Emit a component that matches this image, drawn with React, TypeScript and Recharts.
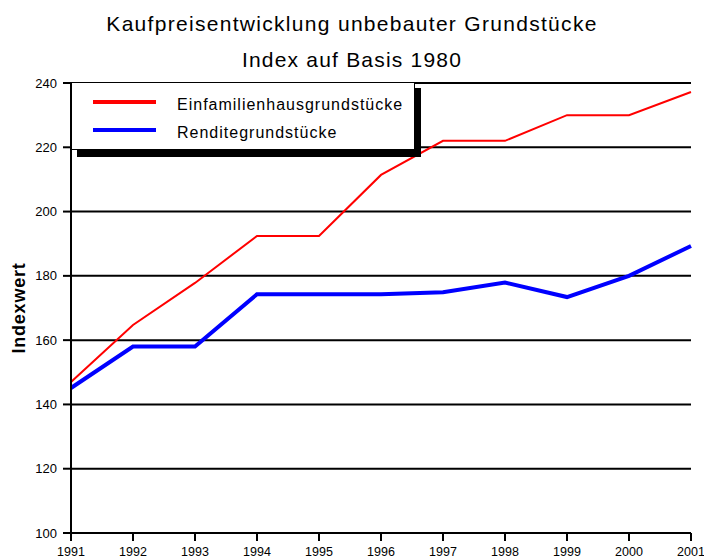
import React from 'react';
import { LineChart, Line, XAxis, YAxis, CartesianGrid } from 'recharts';

const years = [1991, 1992, 1993, 1994, 1995, 1996, 1997, 1998, 1999, 2000, 2001];
const einfamilien = [147, 164.7, 177.8, 192.4, 192.4, 211.4, 222, 222, 230, 230, 237.2];
const rendite = [145.1, 158, 158, 174.3, 174.3, 174.3, 174.9, 177.9, 173.4, 180, 189.3];
const yTicks = [100, 120, 140, 160, 180, 200, 220, 240];

const data = years.map((year, i) => ({
    year,
    einfamilien: einfamilien[i],
    rendite: rendite[i],
}));

const font = '"Liberation Sans", Arial, sans-serif';

const YTitle = () => (
    <text
        x={19}
        y={308}
        transform="rotate(-90, 19, 308)"
        textAnchor="middle"
        dominantBaseline="central"
        fontFamily={font}
        fontWeight="bold"
        fontSize={18}
        letterSpacing={0.8}
        fill="#000"
    >
        Indexwert
    </text>
);

export default function App() {
    return (
        <div style={{ position: 'absolute', left: 0, top: 0, width: 704, height: 560, background: '#fff', fontFamily: font }}>
            <div style={{ position: 'absolute', left: 0, width: 704, top: 11, textAlign: 'center', fontSize: 21, letterSpacing: 1.3, lineHeight: '26px' }}>
                Kaufpreisentwicklung unbebauter Grundstücke
            </div>
            <div style={{ position: 'absolute', left: 0, width: 704, top: 47, textAlign: 'center', fontSize: 21, letterSpacing: 1.2, lineHeight: '26px' }}>
                Index auf Basis 1980
            </div>
            <LineChart
                width={704}
                height={560}
                data={data}
                margin={{ top: 83, right: 13, bottom: 0, left: 0 }}
            >
                <CartesianGrid vertical={false} stroke="#000" strokeWidth={2} />
                <XAxis
                    dataKey="year"
                    type="number"
                    domain={[1991, 2001]}
                    ticks={years}
                    interval={0}
                    stroke="#000"
                    strokeWidth={2}
                    tickSize={8}
                    tickMargin={6}
                    tick={{ fontFamily: font, fontSize: 12.5, fill: '#000' }}
                    height={27}
                />
                <YAxis
                    domain={[100, 240]}
                    ticks={yTicks}
                    interval={0}
                    width={71}
                    stroke="#000"
                    strokeWidth={2}
                    tickSize={8}
                    tickMargin={6}
                    tick={{ fontFamily: font, fontSize: 13, fill: '#000' }}
                    label={{ content: () => <YTitle /> }}
                />
                <Line
                    type="linear"
                    dataKey="einfamilien"
                    stroke="#ff0000"
                    strokeWidth={2}
                    dot={false}
                    isAnimationActive={false}
                />
                <Line
                    type="linear"
                    dataKey="rendite"
                    stroke="#0000ff"
                    strokeWidth={4}
                    dot={false}
                    isAnimationActive={false}
                />
            </LineChart>
            {/* legend box with drop shadow */}
            <div style={{ position: 'absolute', left: 77, top: 88, width: 344, height: 69, background: '#000' }} />
            <div style={{ position: 'absolute', left: 71, top: 82, width: 342, height: 66, background: '#fff', border: '1px solid #000' }}>
                <div style={{ position: 'absolute', left: 21, top: 17, width: 63, height: 4, background: '#ff0000' }} />
                <div style={{ position: 'absolute', left: 105, top: 13, fontSize: 16, letterSpacing: 1, lineHeight: '18px', whiteSpace: 'nowrap' }}>Einfamilienhausgrundstücke</div>
                <div style={{ position: 'absolute', left: 21, top: 45, width: 63, height: 4, background: '#0000ff' }} />
                <div style={{ position: 'absolute', left: 105, top: 41, fontSize: 16, letterSpacing: 1, lineHeight: '18px', whiteSpace: 'nowrap' }}>Renditegrundstücke</div>
            </div>
        </div>
    );
}
